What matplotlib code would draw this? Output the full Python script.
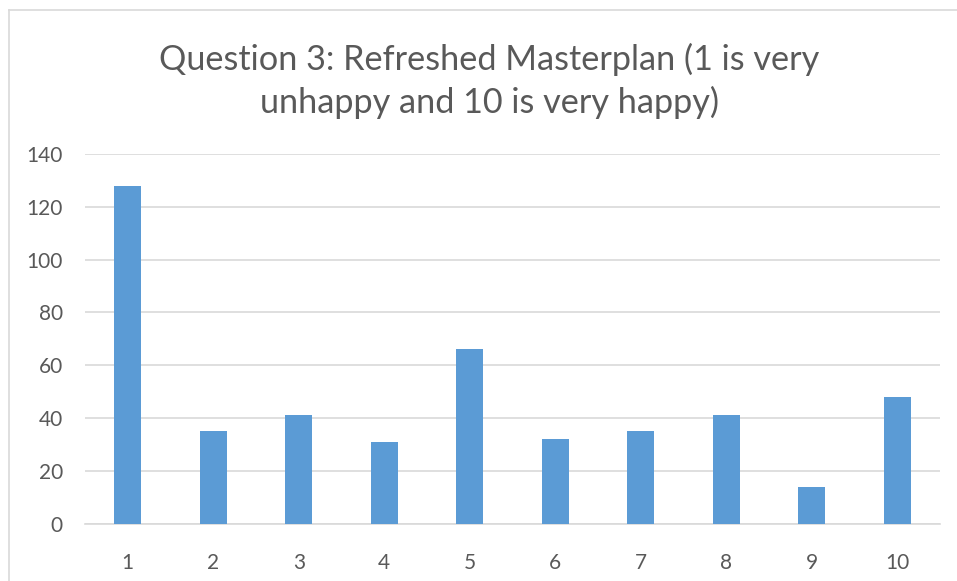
import matplotlib
matplotlib.use("Agg")
import matplotlib.pyplot as plt
from matplotlib.lines import Line2D

categories = ["1", "2", "3", "4", "5", "6", "7", "8", "9", "10"]
values = [128, 35, 41, 31, 66, 32, 35, 41, 14, 48]
yticks = [0, 20, 40, 60, 80, 100, 120, 140]
title = "Question 3: Refreshed Masterplan (1 is very\nunhappy and 10 is very happy)"

W, H = 957, 581
plt.rcParams['font.family'] = ['Lato', 'DejaVu Sans']
fig = plt.figure(figsize=(W / 100, H / 100), dpi=100)
ax = fig.add_axes([85 / W, (H - 523.7) / H, (940 - 85) / W, (523.7 - 154) / H])

x = list(range(len(categories)))
ax.bar(x, values, width=0.31, color="#5b9bd5", zorder=3)
ax.set_xlim(-0.5, len(categories) - 0.5)
ax.set_ylim(0, 140)
ax.set_yticks(yticks)
ax.set_xticks(x)
ax.set_xticklabels(categories)
ax.yaxis.grid(True, color="#d9d9d9", linewidth=1.2, zorder=0)
ax.set_axisbelow(True)
for s in ["top", "right", "left"]:
    ax.spines[s].set_visible(False)
ax.spines["bottom"].set_color("#d9d9d9")
ax.spines["bottom"].set_linewidth(1.2)
ax.tick_params(axis="both", length=0, colors="#595959", labelsize=15)
ax.tick_params(axis="x", pad=21)
ax.tick_params(axis="y", pad=16)

fig.text(489 / W, 1 - 81 / H, title, ha="center", va="center", fontsize=24.7,
         color="#595959", linespacing=1.36)

# chart border (cropped on right and bottom)
fig.add_artist(Line2D([8.5 / W, 8.5 / W], [0, 1 - 9.5 / H], color="#d9d9d9", lw=1.2, transform=fig.transFigure))
fig.add_artist(Line2D([8.5 / W, 1], [1 - 9.5 / H, 1 - 9.5 / H], color="#d9d9d9", lw=1.2, transform=fig.transFigure))

fig.savefig("out.png", dpi=100)
